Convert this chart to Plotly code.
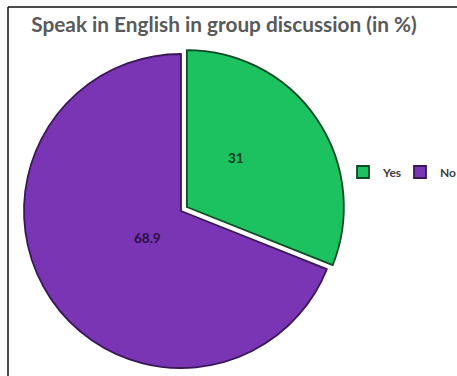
import plotly.graph_objects as go

# Survey answers: share of students who speak English in group discussion
labels = ["Yes", "No"]
values = [31, 68.9]
fill_colors = ["#1CC160", "#7A35B4"]
edge_colors = ["#0E4A24", "#3A1858"]
text_colors = ["#123D1E", "#2A0F45"]

W, H = 457, 376
cx, cy, r, pull = 181, 211, 157, 0.045
half = r * (1 + pull)

fig = go.Figure(
    go.Pie(
        labels=labels,
        values=values,
        sort=False,
        direction="clockwise",
        rotation=0,
        pull=[pull, 0],
        marker=dict(colors=fill_colors, line=dict(color=edge_colors, width=1.8)),
        textinfo="none",
        hoverinfo="label+value",
        domain=dict(
            x=[(cx - half) / W, (cx + half) / W],
            y=[1 - (cy + half) / H, 1 - (cy - half) / H],
        ),
    )
)

# value labels inside each slice (pixel offsets from the pie centre)
label_offsets = [(55, -53), (-49, 27)]
for v, (dx, dy), c in zip(values, label_offsets, text_colors):
    fig.add_annotation(
        text=f"{v:g}", xref="paper", yref="paper",
        x=(cx + dx) / W, y=1 - (cy + dy) / H,
        showarrow=False,
        font=dict(family="Lato", size=13.5, color=c, weight="bold"),
    )

# frame lines on the top and left of the chart area
fig.add_shape(type="line", xref="paper", yref="paper",
              x0=8 / W, x1=1, y0=1 - 7 / H, y1=1 - 7 / H,
              line=dict(color="#111111", width=1.5))
fig.add_shape(type="line", xref="paper", yref="paper",
              x0=8 / W, x1=8 / W, y0=0, y1=1 - 7 / H,
              line=dict(color="#111111", width=1.5))

fig.update_layout(
    width=W,
    height=H,
    margin=dict(l=0, r=0, t=0, b=0, autoexpand=False),
    paper_bgcolor="white",
    plot_bgcolor="white",
    title=dict(
        text="Speak in English in group discussion (in %)",
        x=224 / W,
        xanchor="center",
        y=1 - 25 / H,
        yanchor="middle",
        font=dict(family="Lato", size=20.8, color="#595959", weight="bold"),
    ),
    legend=dict(
        orientation="h",
        x=343 / W,
        xanchor="left",
        y=1 - 172 / H,
        yanchor="middle",
        font=dict(family="Lato", size=12, color="#404040", weight="bold"),
        itemwidth=30,
        entrywidth=12,
        bgcolor="rgba(0,0,0,0)",
    ),
)

fig.write_html("out.html")
